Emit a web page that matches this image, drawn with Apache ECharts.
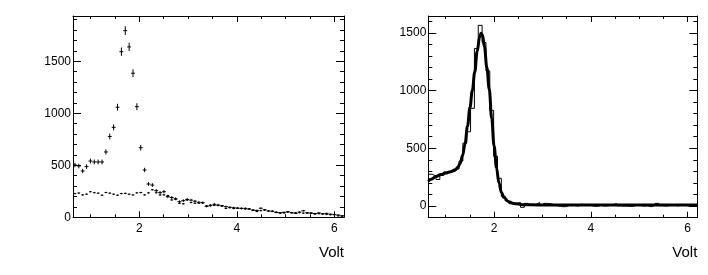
<!DOCTYPE html>
<html>
<head>
<meta charset="utf-8">
<script src="https://cdn.jsdelivr.net/npm/echarts@6.0.0/dist/echarts.min.js"></script>
<style>
  html, body { margin: 0; padding: 0; background: #fff; }
  #chart { width: 708px; height: 275px; }
</style>
</head>
<body>
<div id="chart"></div>
<script>
// ---------------- data ----------------
const X_MIN = 0.64;
const X_MAX = 6.2;
const N_BINS = 70;

// left panel: measured counts per bin (crosses with error bars)
const dataCounts = [503, 493, 445, 487, 541, 532, 532, 532, 628, 777, 865, 1058, 1592, 1794, 1638, 1385, 1063, 669, 455, 320, 310, 256, 237,
  246, 198, 190, 178, 150, 160, 172, 165, 155, 144, 140, 105, 112, 125, 118, 110, 102, 96, 92, 88, 84, 86, 80, 70, 66, 87, 72, 61, 58,
  46, 44, 48, 52, 45, 38, 50, 63, 44, 40, 36, 42, 34, 38, 30, 26, 22, 15];
const dataErrors = [22, 22, 21, 22, 23, 23, 23, 23, 25, 28, 29, 33, 40, 42, 40, 37, 33, 26, 21, 18, 18, 16, 15,
  16, 14, 14, 13, 12, 13, 13, 13, 12, 12, 12, 10, 11, 11, 11, 10, 10, 10, 10, 9, 9, 9, 9, 8, 8, 9, 8, 8, 8,
  7, 7, 7, 7, 7, 6, 7, 8, 7, 6, 6, 6, 6, 6, 5, 5, 5, 4];
// left panel: background estimate per bin (short dashes)
const bkgCounts = [228, 233, 215, 222, 246, 237, 232, 212, 238, 232, 222, 212, 228, 230, 222, 215, 235, 238, 215, 235, 265, 236, 215,
  216, 209, 167, 173, 135, 130, 167, 142, 135, 136, 140, 111, 117, 115, 113, 110, 85, 93, 84, 88, 87, 80, 80, 66, 56, 64, 70, 61, 58,
  50, 40, 42, 52, 43, 44, 45, 40, 41, 40, 31, 35, 32, 28, 25, 26, 14, 10];
const BKG_ERR = 7;

// right panel: background-subtracted histogram
const diffCounts = [275, 260, 230, 265, 295, 295, 300, 320, 390, 545, 643, 846, 1364, 1564, 1416, 1170, 828, 431, 240, 85, 45, 20, 22,
  30, -11, 23, 5, 15, 30, 5, 23, 20, 8, 0, -6, -5, 10, 5, 0, 17, 3, 8, 0, -3, 6, 0, 4, 10, 23, 2, 0, 0,
  -4, 4, 6, 0, 2, -6, 5, 23, 3, 0, 5, 7, 2, 10, 5, 0, 8, 5];

// right panel: fitted curve
const fitX = [0.64, 0.7, 0.8, 0.9, 1.0, 1.1, 1.2, 1.25, 1.3, 1.35, 1.4, 1.45, 1.5, 1.55, 1.6, 1.65, 1.7, 1.73, 1.76, 1.8,
  1.85, 1.9, 1.95, 2.0, 2.05, 2.1, 2.15, 2.2, 2.3, 2.4, 2.6, 3.0, 4.0, 5.0, 6.2];
const fitY = [215, 232, 255, 272, 285, 297, 315, 335, 370, 440, 540, 690, 850, 1000, 1160, 1340, 1460, 1495, 1480, 1380,
  1200, 1010, 760, 520, 330, 200, 120, 75, 38, 22, 12, 9, 8, 8, 8];

// axis ticks / labels
const xMajorTicks = [2, 4, 6];
const xMinorTicks = [1, 1.5, 2.5, 3, 3.5, 4.5, 5, 5.5];
const leftYMajor = [0, 500, 1000, 1500];
const leftYMinor = [100, 200, 300, 400, 600, 700, 800, 900, 1100, 1200, 1300, 1400, 1600, 1700, 1800, 1900];
const rightYMajor = [0, 500, 1000, 1500];
const rightYMinor = [-100, 100, 200, 300, 400, 600, 700, 800, 900, 1100, 1200, 1300, 1400, 1600];
const xTitle = 'Volt';

// ---------------- chart ----------------
const BIN_W = (X_MAX - X_MIN) / N_BINS;
const centers = dataCounts.map((_, i) => X_MIN + (i + 0.5) * BIN_W);

const FONT = 'Liberation Sans';
const BLACK = '#000';
const plainNum = v => String(v);

function xAxisDef(grid, position, ticks, len, labels, line, name) {
  return {
    type: 'value', gridIndex: grid, position: position, min: X_MIN, max: X_MAX,
    axisLine: { show: line, onZero: false, lineStyle: { color: BLACK, width: 1 } },
    axisTick: { show: true, inside: true, length: len, customValues: ticks, lineStyle: { color: BLACK, width: 1 } },
    axisLabel: labels ? { show: true, customValues: ticks, formatter: plainNum, margin: 5, color: BLACK, fontFamily: FONT, fontSize: 12 } : { show: false },
    splitLine: { show: false },
    name: name || '',
    nameLocation: 'end', nameGap: 0,
    nameTextStyle: { color: BLACK, fontFamily: FONT, fontSize: 15, align: 'right', verticalAlign: 'top', padding: [28, 0, 0, 0] }
  };
}
function yAxisDef(grid, position, min, max, ticks, len, labels, line) {
  return {
    type: 'value', gridIndex: grid, position: position, min: min, max: max,
    axisLine: { show: line, onZero: false, lineStyle: { color: BLACK, width: 1 } },
    axisTick: { show: true, inside: true, length: len, customValues: ticks, lineStyle: { color: BLACK, width: 1 } },
    axisLabel: labels ? { show: true, customValues: ticks, formatter: plainNum, margin: 2, color: BLACK, fontFamily: FONT, fontSize: 12 } : { show: false },
    splitLine: { show: false }
  };
}

const L_YMIN = 0, L_YMAX = 1935, R_YMIN = -101, R_YMAX = 1645;

function errorBarRender(errFn, widthFrac) {
  return function (params, api) {
    const x = api.value(0), y = api.value(1), e = errFn(params.dataIndex);
    const half = BIN_W * widthFrac / 2;
    const l = api.coord([x - half, y]);
    const r = api.coord([x + half, y]);
    const t = api.coord([x, y + e]);
    const b = api.coord([x, y - e]);
    const st = { stroke: BLACK, lineWidth: 1 };
    return {
      type: 'group',
      children: [
        { type: 'line', shape: { x1: l[0], y1: l[1], x2: r[0], y2: r[1] }, style: st },
        { type: 'line', shape: { x1: t[0], y1: t[1], x2: b[0], y2: b[1] }, style: st }
      ]
    };
  };
}

const histPoints = [];
diffCounts.forEach((v, i) => {
  histPoints.push([X_MIN + i * BIN_W, v]);
  histPoints.push([X_MIN + (i + 1) * BIN_W, v]);
});

const option = {
  animation: false,
  backgroundColor: '#fff',
  grid: [
    { left: 73, top: 16, width: 271, height: 201.3, containLabel: false },
    { left: 428.3, top: 16, width: 269, height: 201.7, containLabel: false }
  ],
  xAxis: [
    xAxisDef(0, 'bottom', xMajorTicks, 6, true, true, xTitle),
    xAxisDef(0, 'bottom', xMinorTicks, 3, false, false),
    xAxisDef(0, 'top', xMajorTicks, 6, false, true),
    xAxisDef(0, 'top', xMinorTicks, 3, false, false),
    xAxisDef(1, 'bottom', xMajorTicks, 6, true, true, xTitle),
    xAxisDef(1, 'bottom', xMinorTicks, 3, false, false),
    xAxisDef(1, 'top', xMajorTicks, 6, false, true),
    xAxisDef(1, 'top', xMinorTicks, 3, false, false)
  ],
  yAxis: [
    yAxisDef(0, 'left', L_YMIN, L_YMAX, leftYMajor, 8, true, true),
    yAxisDef(0, 'left', L_YMIN, L_YMAX, leftYMinor, 4, false, false),
    yAxisDef(0, 'right', L_YMIN, L_YMAX, leftYMajor, 8, false, true),
    yAxisDef(0, 'right', L_YMIN, L_YMAX, leftYMinor, 4, false, false),
    yAxisDef(1, 'left', R_YMIN, R_YMAX, rightYMajor, 8, true, true),
    yAxisDef(1, 'left', R_YMIN, R_YMAX, rightYMinor, 4, false, false),
    yAxisDef(1, 'right', R_YMIN, R_YMAX, rightYMajor, 8, false, true),
    yAxisDef(1, 'right', R_YMIN, R_YMAX, rightYMinor, 4, false, false)
  ],
  series: [
    {
      type: 'custom', name: 'background', xAxisIndex: 0, yAxisIndex: 0, clip: true,
      data: centers.map((c, i) => [c, bkgCounts[i]]),
      renderItem: errorBarRender(() => BKG_ERR, 0.7)
    },
    {
      type: 'custom', name: 'data', xAxisIndex: 0, yAxisIndex: 0, clip: true,
      data: centers.map((c, i) => [c, dataCounts[i]]),
      renderItem: errorBarRender(i => dataErrors[i], 1)
    },
    {
      type: 'line', name: 'signal', xAxisIndex: 4, yAxisIndex: 4, clip: true,
      data: histPoints, symbol: 'none', showSymbol: false,
      lineStyle: { color: BLACK, width: 1 }
    },
    {
      type: 'line', name: 'fit', xAxisIndex: 4, yAxisIndex: 4, clip: true,
      data: fitX.map((x, i) => [x, fitY[i]]), symbol: 'none', showSymbol: false,
      smooth: 0.4, smoothMonotone: 'x',
      lineStyle: { color: BLACK, width: 3 }
    }
  ]
};

const chart = echarts.init(document.getElementById('chart'), null, { renderer: 'canvas' });
chart.setOption(option);
</script>
</body>
</html>
